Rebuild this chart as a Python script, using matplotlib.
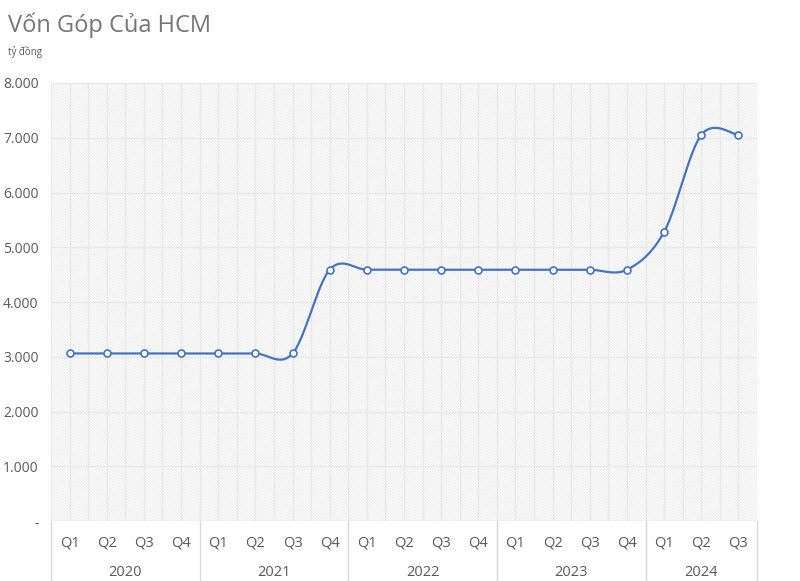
import numpy as np
import matplotlib
matplotlib.use("Agg")
import matplotlib.pyplot as plt
import matplotlib.transforms as mtransforms
from matplotlib.patches import Rectangle

plt.rcParams['font.family'] = ['Open Sans', 'DejaVu Sans']
plt.rcParams['hatch.linewidth'] = 0.5
plt.rcParams['hatch.color'] = '#e6e6e6'

years = ["2020", "2021", "2022", "2023", "2024"]
quarters_per_year = [4, 4, 4, 4, 3]
quarter_labels = ["Q1", "Q2", "Q3", "Q4", "Q1", "Q2", "Q3", "Q4", "Q1", "Q2",
                  "Q3", "Q4", "Q1", "Q2", "Q3", "Q4", "Q1", "Q2", "Q3"]
values = [3060, 3060, 3060, 3060, 3060, 3060, 3060, 4590, 4590, 4590,
          4590, 4590, 4590, 4590, 4590, 4590, 5280, 7050, 7050]
y_ticks = [0, 1000, 2000, 3000, 4000, 5000, 6000, 7000, 8000]
y_tick_labels = ["-", "1.000", "2.000", "3.000", "4.000", "5.000", "6.000", "7.000", "8.000"]

TXT = '#595959'
BLUE = '#4472C4'
GRID = '#e8e8e8'

fig = plt.figure(figsize=(8, 5.81), dpi=100)
ax = fig.add_axes([51/800, 60/581, 706/800, 438/581])

n = len(values)
x = np.arange(n, dtype=float)
y = np.array(values, dtype=float)

# hatched background
ax.add_patch(Rectangle((0, 0), 1, 1, transform=ax.transAxes, facecolor='white',
                       edgecolor='#e6e6e6', hatch='\\' * 12, linewidth=0, zorder=0))

# gridlines
for yt in y_ticks[1:]:
    ax.axhline(yt, color=GRID, lw=1.0, zorder=1)
for xv in np.arange(-0.5, n, 0.5):
    ax.axvline(xv, color=GRID, lw=1.0, zorder=1)

# Excel-like smoothed line (Catmull-Rom Bezier)
P = np.column_stack([x, y])
Pext = np.vstack([P[0], P, P[-1]])
curve = []
t = np.linspace(0, 1, 30)
for i in range(n - 1):
    p0, p1, p2, p3 = Pext[i], Pext[i + 1], Pext[i + 2], Pext[i + 3]
    c1 = p1 + (p2 - p0) / 6
    c2 = p2 - (p3 - p1) / 6
    seg = ((1 - t) ** 3)[:, None] * p1 + (3 * (1 - t) ** 2 * t)[:, None] * c1 \
        + (3 * (1 - t) * t ** 2)[:, None] * c2 + (t ** 3)[:, None] * p2
    curve.append(seg)
curve = np.vstack(curve)
ax.plot(curve[:, 0], curve[:, 1], color=BLUE, lw=1.6, zorder=3, solid_capstyle='round')
ax.plot(x, y, linestyle='none', marker='o', markersize=5, markerfacecolor='white',
        markeredgecolor=BLUE, markeredgewidth=1.2, zorder=4)

ax.set_xlim(-0.5, n - 0.5)
ax.set_ylim(0, 8000)
ax.set_yticks(y_ticks)
ax.set_yticklabels(y_tick_labels, color=TXT, fontsize=10)
ax.tick_params(axis='y', length=0, pad=9)
ax.set_xticks([])
for s in ax.spines.values():
    s.set_visible(False)
ax.axhline(0, color='#d9d9d9', lw=1.0, zorder=2)

# category labels
trans = mtransforms.blended_transform_factory(ax.transData, ax.transAxes)
for i, q in enumerate(quarter_labels):
    ax.text(i, -22/438, q, transform=trans, ha='center', va='center', color=TXT, fontsize=10.5)

# year groups
bounds = np.concatenate([[0], np.cumsum(quarters_per_year)]) - 0.5
for b in bounds:
    ax.plot([b, b], [0, -60/438], transform=trans, color='#d9d9d9', lw=1.0, clip_on=False)
for j, yr in enumerate(years):
    cx = (bounds[j] + bounds[j + 1]) / 2
    ax.text(cx, -51/438, yr, transform=trans, ha='center', va='center', color=TXT, fontsize=10.5)

fig.text(8/800, 1 - 25/581, "Vốn Góp Của HCM", ha='left', va='center', color='#757575', fontsize=17)
fig.text(8/800, 1 - 52/581, "tỷ đồng", ha='left', va='center', color=TXT, fontsize=7)

fig.savefig("out.png", dpi=100, facecolor='white')
